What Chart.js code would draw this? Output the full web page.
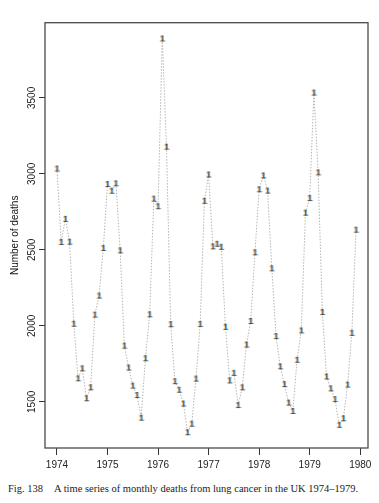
<!DOCTYPE html>
<html>
<head>
<meta charset="utf-8">
<script src="https://cdn.jsdelivr.net/npm/chart.js@4.4.0/dist/chart.umd.min.js"></script>
<style>
  html, body { margin: 0; padding: 0; background: #fff; }
  .wrap { position: relative; width: 379px; height: 503px; }
  .chart--box { position: absolute; left: 0; top: 0; width: 379px; height: 478px; }
  .caption { position: absolute; top: 483px; font: 10.5px 'Liberation Serif', 'Times New Roman', serif; color: #222; white-space: nowrap; }
</style>
</head>
<body>
<div class="wrap">
  <div class="chart--box"><canvas class="myChart"></canvas></div>
  <span class="caption" style="left:8px">Fig. 138</span>
  <span class="caption" style="left:54px">A time series of monthly deaths from lung cancer in the UK 1974–1979.</span>
</div>
<script>
// monthly deaths from lung cancer, UK (Jan..Dec of each year)
const years = [1974, 1975, 1976, 1977, 1978, 1979];
const deaths1974 = [3035, 2552, 2704, 2554, 2014, 1655, 1721, 1524, 1596, 2074, 2199, 2512];
const deaths1975 = [2933, 2889, 2938, 2497, 1870, 1726, 1607, 1545, 1396, 1787, 2076, 2837];
const deaths1976 = [2787, 3891, 3179, 2011, 1636, 1580, 1489, 1300, 1356, 1653, 2013, 2823];
const deaths1977 = [2996, 2523, 2540, 2520, 1994, 1641, 1691, 1479, 1596, 1877, 2032, 2484];
const deaths1978 = [2899, 2990, 2890, 2379, 1933, 1734, 1617, 1495, 1440, 1777, 1970, 2745];
const deaths1979 = [2841, 3535, 3010, 2091, 1667, 1589, 1518, 1349, 1392, 1614, 1954, 2633];
const xTicks = [1974, 1975, 1976, 1977, 1978, 1979, 1980];
const yTicks = [1500, 2000, 2500, 3000, 3500];

const byYear = [deaths1974, deaths1975, deaths1976, deaths1977, deaths1978, deaths1979];

// points at year + month/12
const points = [];
years.forEach((yr, i) => {
  byYear[i].forEach((v, m) => points.push({ x: yr + m / 12, y: v }));
});

// R style axis range: data range extended by 4% each side
const pad = (lo, hi) => [lo - (hi - lo) * 0.04, hi + (hi - lo) * 0.04];
const xs = points.map(p => p.x);
const ys = points.map(p => p.y);
const [xMin, xMax] = pad(Math.min(...xs), Math.max(...xs));
const [yMin, yMax] = pad(Math.min(...ys), Math.max(...ys));

// the plotting symbol is the character "1" (with the colour fringes of the scan)
function makeOne() {
  const c = document.createElement('canvas');
  c.width = 9;
  c.height = 12;
  const g = c.getContext('2d');
  g.font = '9px "Liberation Sans", Arial, sans-serif';
  g.textAlign = 'center';
  g.textBaseline = 'middle';
  g.fillStyle = 'rgb(245,165,60)';
  g.fillText('1', 3.8, 6.5);
  g.fillStyle = 'rgb(60,160,235)';
  g.fillText('1', 5.4, 6.5);
  g.fillStyle = 'rgba(60,30,20,0.8)';
  g.fillText('1', 4.6, 6.5);
  return c;
}

// box round the plot region
const boxPlugin = {
  id: 'box',
  afterDraw(chart) {
    const { ctx, chartArea: a } = chart;
    ctx.save();
    ctx.strokeStyle = '#4a4a4a';
    ctx.lineWidth = 1.3;
    ctx.strokeRect(a.left, a.top, a.right - a.left, a.bottom - a.top);
    ctx.restore();
  },
};

const tickFont = { family: "'Liberation Sans', Arial, sans-serif", size: 10 };

new Chart(document.querySelector('.myChart').getContext('2d'), {
  type: 'line',
  data: {
    datasets: [
      {
        data: points,
        borderColor: '#b5b5b5',
        borderWidth: 1,
        borderDash: [1.5, 1.5],
        tension: 0,
        fill: false,
        pointStyle: makeOne(),
        pointRadius: 4,
        pointHoverRadius: 4,
      },
    ],
  },
  options: {
    animation: false,
    responsive: true,
    maintainAspectRatio: false,
    devicePixelRatio: 1,
    layout: { padding: { left: 0, top: 22.7, right: 11, bottom: 0 } },
    plugins: { legend: { display: false }, tooltip: { enabled: false } },
    scales: {
      x: {
        type: 'linear',
        min: xMin,
        max: xMax,
        afterBuildTicks: s => { s.ticks = xTicks.map(v => ({ value: v })); },
        afterFit: s => { s.height = 30; },
        grid: { drawOnChartArea: false, drawTicks: true, tickLength: 7, tickColor: '#333' },
        border: { display: false },
        ticks: { font: tickFont, color: '#222', padding: 4, maxRotation: 0, autoSkip: false, callback: v => String(v) },
      },
      y: {
        min: yMin,
        max: yMax,
        afterBuildTicks: s => { s.ticks = yTicks.map(v => ({ value: v })); },
        afterFit: s => { s.width = 45; },
        grid: { drawOnChartArea: false, drawTicks: true, tickLength: 6, tickColor: '#333' },
        border: { display: false },
        ticks: { font: tickFont, color: '#222', padding: -4, minRotation: 90, maxRotation: 90, crossAlign: 'center', callback: v => String(v) },
        title: { display: true, text: 'Number of deaths', font: tickFont, color: '#111', padding: { top: 9, bottom: 0 } },
      },
    },
  },
  plugins: [boxPlugin],
});
</script>
</body>
</html>
